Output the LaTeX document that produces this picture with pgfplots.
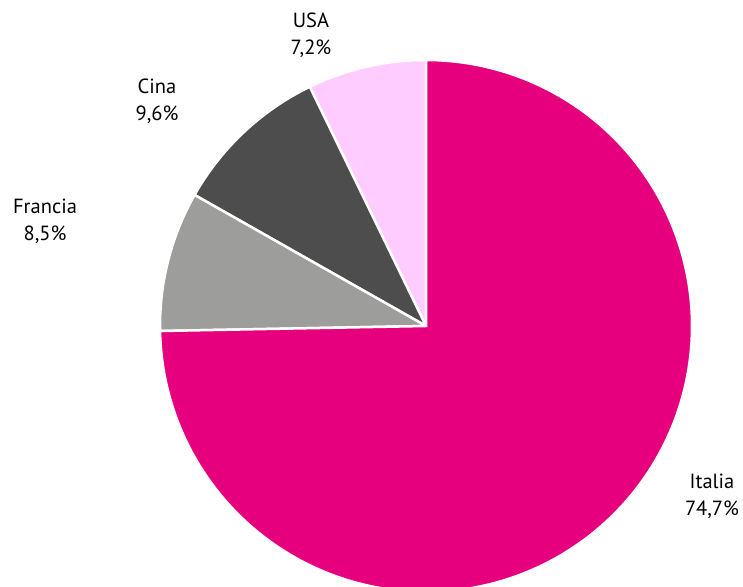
\documentclass[border=0pt]{standalone}
\usepackage{pgfplots}
\pgfplotsset{compat=1.18}
\usepackage{fontspec}
\setmainfont{PT Sans}

\definecolor{ital}{HTML}{E6007E}
\definecolor{fran}{HTML}{9D9D9C}
\definecolor{cina}{HTML}{4D4D4D}
\definecolor{usa}{HTML}{FFCCFF}

% shares in percent, counter-clockwise from the top
\def\pUSA{7.2}
\def\pCina{9.6}
\def\pFrancia{8.5}
\def\pItalia{74.7}

\begin{document}
\begin{tikzpicture}[lbl/.style={font=\fontsize{20.5}{27}\selectfont, align=center, inner sep=0pt}]
\pgfmathsetmacro\aA{90}
\pgfmathsetmacro\aB{\aA+3.6*\pUSA}
\pgfmathsetmacro\aC{\aB+3.6*\pCina}
\pgfmathsetmacro\aD{\aC+3.6*\pFrancia}
\pgfmathsetmacro\aE{\aD+3.6*\pItalia}
\begin{axis}[
    hide axis,
    scale only axis,
    width=743pt, height=586pt,
    xmin=0, xmax=743, ymin=0, ymax=586,
    clip=true,
    slice/.style={draw=white, line width=2.5pt, line join=miter, samples=200, variable=\t},
]
\path (axis cs:0,0) rectangle (axis cs:743,586);
\addplot[slice, fill=usa, domain=\aA:\aB] ({426+266*cos(t)},{260+266*sin(t)}) -- (axis cs:426,260) -- cycle;
\addplot[slice, fill=cina, domain=\aB:\aC] ({426+266*cos(t)},{260+266*sin(t)}) -- (axis cs:426,260) -- cycle;
\addplot[slice, fill=fran, domain=\aC:\aD] ({426+266*cos(t)},{260+266*sin(t)}) -- (axis cs:426,260) -- cycle;
\addplot[slice, fill=ital, domain=\aD:\aE] ({426+266*cos(t)},{260+266*sin(t)}) -- (axis cs:426,260) -- cycle;

\node[lbl] at (axis cs:311,551) {USA\\7,2\%};
\node[lbl] at (axis cs:157,485) {Cina\\9,6\%};
\node[lbl] at (axis cs:45,365) {Francia\\8,5\%};
\node[lbl] at (axis cs:712,90) {Italia\\74,7\%};
\end{axis}
\end{tikzpicture}
\end{document}
